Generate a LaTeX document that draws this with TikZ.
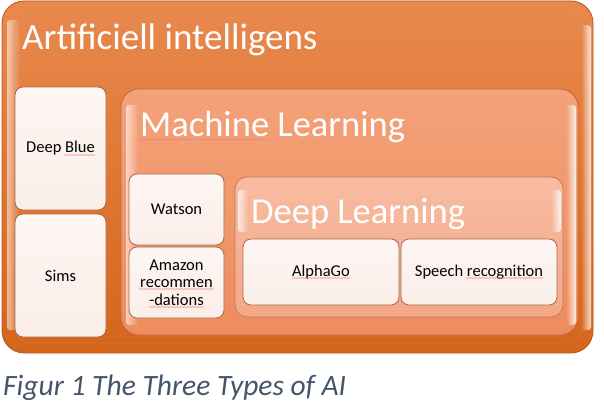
\documentclass[tikz,border=0pt]{standalone}
\usepackage{fontspec}
\setmainfont{Carlito}
\usetikzlibrary{fadings,decorations.pathmorphing,calc}
\definecolor{outTop}{HTML}{E9894E}
\definecolor{outBot}{HTML}{D6651B}
\definecolor{outLine}{HTML}{B5581C}
\definecolor{mlTop}{HTML}{F3A27A}
\definecolor{mlBot}{HTML}{EE8C5C}
\definecolor{mlLine}{HTML}{C06A40}
\definecolor{dlTop}{HTML}{F7BCA2}
\definecolor{dlBot}{HTML}{F3A886}
\definecolor{dlLine}{HTML}{C07A5C}
\definecolor{leafTop}{HTML}{FDF6F3}
\definecolor{leafBot}{HTML}{FAEEE8}
\definecolor{leafLine}{HTML}{A8684A}
\definecolor{capBlue}{HTML}{44546A}
\definecolor{spell}{HTML}{F08080}
\tikzfading[name=fadeR, left color=transparent!0, right color=transparent!100]
\tikzfading[name=fadeL, left color=transparent!100, right color=transparent!0]
\begin{document}
\begin{tikzpicture}[x=1pt,y=-1pt,
  panel/.style={rectangle, inner sep=0pt, outer sep=0pt, line width=0.8pt},
  outerbox/.style={panel, rounded corners=22pt, draw=outLine, top color=outTop, bottom color=outBot},
  mlbox/.style={panel, rounded corners=18pt, draw=mlLine, top color=mlTop, bottom color=mlBot},
  dlbox/.style={panel, rounded corners=12pt, draw=dlLine, top color=dlTop, bottom color=dlBot},
  leaf/.style={panel, rounded corners=8pt, draw=leafLine, top color=leafTop, bottom color=leafBot,
     font=\fontsize{16.5}{17.5}\selectfont, text=black, align=center},
  title/.style={anchor=base west, inner sep=0pt, text=white},
  hl/.style={white, rounded corners=3pt},
  squiggle/.style={draw=spell, line width=0.5pt, decorate, decoration={snake, amplitude=0.4pt, segment length=2.5pt}}
]
\useasboundingbox (0,0) rectangle (604,414);
% outer panel
\node[outerbox, minimum width=591pt, minimum height=352pt] (ai) at (297.5,177) {};
\fill[hl, path fading=fadeR, fill opacity=0.55] (7,20) rectangle (20,330);
\fill[hl, path fading=fadeL, fill opacity=0.8] (581,25) rectangle (591,330);
\draw[outLine!70, line width=0.6pt, rounded corners=18pt, opacity=0.5] (14,14) rectangle (583,343);
\node[title, font=\fontsize{37}{40}\selectfont] (aiT) at (22,50) {Artificiell intelligens};
% left leaves
\node[leaf, minimum width=91pt, minimum height=123pt] (deepblue) at (60.5,148.5) {Deep Blue};
\node[leaf, minimum width=91pt, minimum height=123pt] (sims) at (60.5,275.5) {Sims};
% machine learning panel
\node[mlbox, minimum width=457pt, minimum height=246pt] (ml) at (349.5,212) {};
\fill[hl, path fading=fadeR, fill opacity=0.6] (126,105) rectangle (138,325);
\fill[hl, path fading=fadeL, fill opacity=0.85] (566,105) rectangle (576,325);
\node[title, font=\fontsize{36.5}{40}\selectfont] (mlT) at (140,137) {Machine Learning};
\node[leaf, minimum width=95pt, minimum height=71pt] (watson) at (176.5,209.5) {Watson};
\node[leaf, minimum width=95pt, minimum height=71pt] (amazon) at (176.5,282.5) {Amazon\\recommen\\-dations};
% deep learning panel
\node[dlbox, minimum width=328pt, minimum height=140pt] (dl) at (399,247) {};
\fill[hl, path fading=fadeR, fill opacity=0.7] (238,190) rectangle (248,232);
\fill[hl, path fading=fadeL, fill opacity=0.85] (551,190) rectangle (561,232);
\node[title, font=\fontsize{36.5}{40}\selectfont] (dlT) at (251,223) {Deep Learning};
\node[leaf, minimum width=156pt, minimum height=66pt] (alphago) at (321,272) {AlphaGo};
\node[leaf, minimum width=156pt, minimum height=66pt] (speech) at (479,272) {Speech recognition};
% spelling underlines
\draw[squiggle] (139,139.5) -- (270,139.5);
\draw[squiggle] (64,155) -- (95,155);
\draw[squiggle] (292,278) -- (350,278);
\draw[squiggle] (466,278) -- (543,278);
\draw[squiggle] (139,289) -- (214,289);
\draw[squiggle] (149,307) -- (204,307);
% caption
\node[anchor=base west, inner sep=0pt, text=capBlue, font=\fontsize{29.5}{32}\selectfont\itshape] (cap) at (3,395) {Figur 1 The Three Types of AI};
\end{tikzpicture}
\end{document}
